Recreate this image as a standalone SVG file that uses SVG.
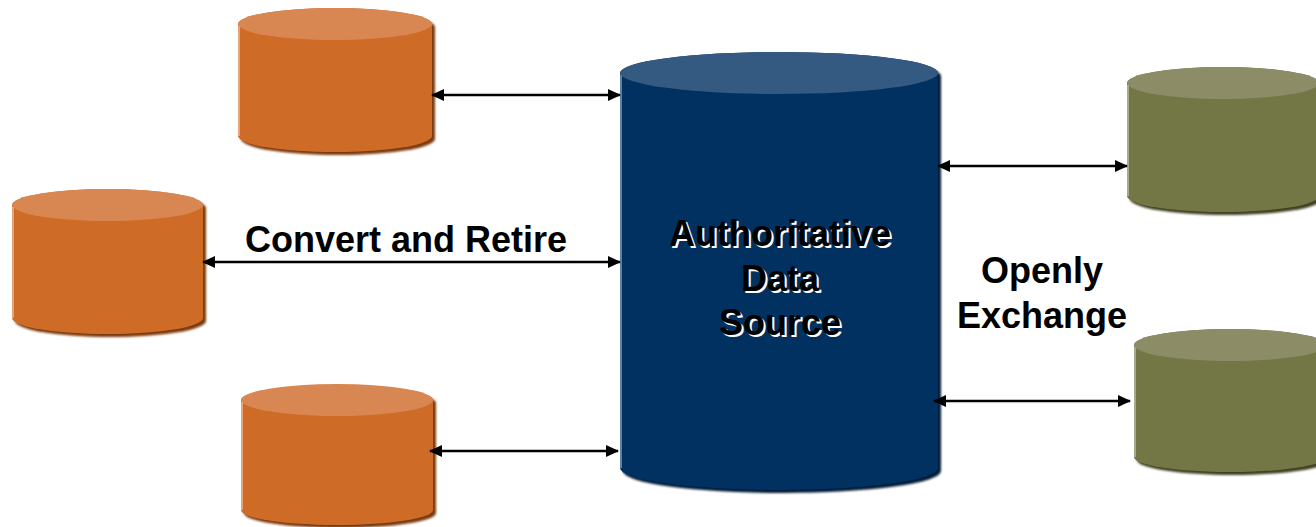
<svg xmlns="http://www.w3.org/2000/svg" width="1316" height="527" viewBox="0 0 1316 527">
<style>
.lbl{font-family:"Liberation Sans",Arial,sans-serif;font-weight:bold;font-size:36px;text-anchor:middle;fill:#000}
.sh{fill:#fff}
.con{stroke:#000;stroke-width:2.5;fill:none;marker-start:url(#ah);marker-end:url(#ah)}
.or .body{fill:#CE6C27}.or .top{fill:#D98752}.or .shd{fill:#7A3A10}.or .hl{stroke:#E3A47A}
.bl .body{fill:#003161}.bl .top{fill:#345A82}.bl .shd{fill:#001A38}.bl .hl{stroke:#5F7FA3}
.gr .body{fill:#737645}.gr .top{fill:#8C8D67}.gr .shd{fill:#3F4124}.gr .hl{stroke:#A9AA8A}
.shd{filter:url(#blur)}
.hl{stroke-width:2;fill:none}
</style>
<defs>
<marker id="ah" viewBox="0 0 13 12" refX="12" refY="6" markerWidth="13" markerHeight="12" markerUnits="userSpaceOnUse" orient="auto-start-reverse">
<path d="M0,0 L13,6 L0,12 Z" fill="#000"/>
</marker>
<filter id="blur" x="-10%" y="-10%" width="120%" height="120%"><feGaussianBlur stdDeviation="1.2"/></filter>
</defs>

<g id="db-left-top" class="or">
<path class="shd" transform="translate(3,3)" d="M238,24 L238,136 A97,16 0 0 0 432,136 L432,24 A97,16 0 0 0 238,24 Z"/>
<path class="body" d="M238,24 L238,136 A97,16 0 0 0 432,136 L432,24 A97,16 0 0 0 238,24 Z"/>
<ellipse class="top" cx="335" cy="24" rx="97" ry="16"/>
<path class="hl" d="M239,26 L239,136"/>
</g>

<g id="db-left-mid" class="or">
<path class="shd" transform="translate(3,3)" d="M12,205 L12,318 A95.5,16 0 0 0 203,318 L203,205 A95.5,16 0 0 0 12,205 Z"/>
<path class="body" d="M12,205 L12,318 A95.5,16 0 0 0 203,318 L203,205 A95.5,16 0 0 0 12,205 Z"/>
<ellipse class="top" cx="107.5" cy="205" rx="95.5" ry="16"/>
<path class="hl" d="M13,207 L13,318"/>
</g>

<g id="db-left-bot" class="or">
<path class="shd" transform="translate(3,3)" d="M241,400 L241,510 A96,15 0 0 0 433,510 L433,400 A96,15 0 0 0 241,400 Z"/>
<path class="body" d="M241,400 L241,510 A96,15 0 0 0 433,510 L433,400 A96,15 0 0 0 241,400 Z"/>
<ellipse class="top" cx="337" cy="400" rx="96" ry="16"/>
<path class="hl" d="M242,402 L242,510"/>
</g>

<g id="db-authoritative" class="bl">
<path class="shd" transform="translate(3,3)" d="M620,73 L620,468 A159,22 0 0 0 938,468 L938,73 A159,21 0 0 0 620,73 Z"/>
<path class="body" d="M620,73 L620,468 A159,22 0 0 0 938,468 L938,73 A159,21 0 0 0 620,73 Z"/>
<ellipse class="top" cx="779" cy="73" rx="159" ry="21"/>
<path class="hl" d="M621,75 L621,468"/>
<text class="lbl sh" x="782" y="248">Authoritative</text>
<text class="lbl sh" x="782" y="293">Data</text>
<text class="lbl sh" x="782" y="337">Source</text>
<text class="lbl" x="780" y="246">Authoritative</text>
<text class="lbl" x="780" y="291">Data</text>
<text class="lbl" x="780" y="335">Source</text>
</g>

<g id="db-right-top" class="gr">
<path class="shd" transform="translate(3,3)" d="M1127,83 L1127,196 A96,16 0 0 0 1319,196 L1319,83 A96,16 0 0 0 1127,83 Z"/>
<path class="body" d="M1127,83 L1127,196 A96,16 0 0 0 1319,196 L1319,83 A96,16 0 0 0 1127,83 Z"/>
<ellipse class="top" cx="1223" cy="83" rx="96" ry="16"/>
<path class="hl" d="M1128,85 L1128,196"/>
</g>

<g id="db-right-bot" class="gr">
<path class="shd" transform="translate(3,3)" d="M1134,345 L1134,457 A96,15 0 0 0 1326,457 L1326,345 A96,16 0 0 0 1134,345 Z"/>
<path class="body" d="M1134,345 L1134,457 A96,15 0 0 0 1326,457 L1326,345 A96,16 0 0 0 1134,345 Z"/>
<ellipse class="top" cx="1230" cy="345" rx="96" ry="16"/>
<path class="hl" d="M1135,347 L1135,457"/>
</g>

<g id="connectors">
<line class="con" x1="432" y1="95" x2="620" y2="95"/>
<line class="con" x1="203" y1="262" x2="620" y2="262"/>
<line class="con" x1="430" y1="451" x2="618" y2="451"/>
<line class="con" x1="938" y1="166" x2="1127" y2="166"/>
<line class="con" x1="934" y1="401" x2="1130" y2="401"/>
</g>

<g id="labels">
<text class="lbl" x="406" y="252">Convert and Retire</text>
<text class="lbl" x="1042" y="283">Openly</text>
<text class="lbl" x="1042" y="328">Exchange</text>
</g>
</svg>
